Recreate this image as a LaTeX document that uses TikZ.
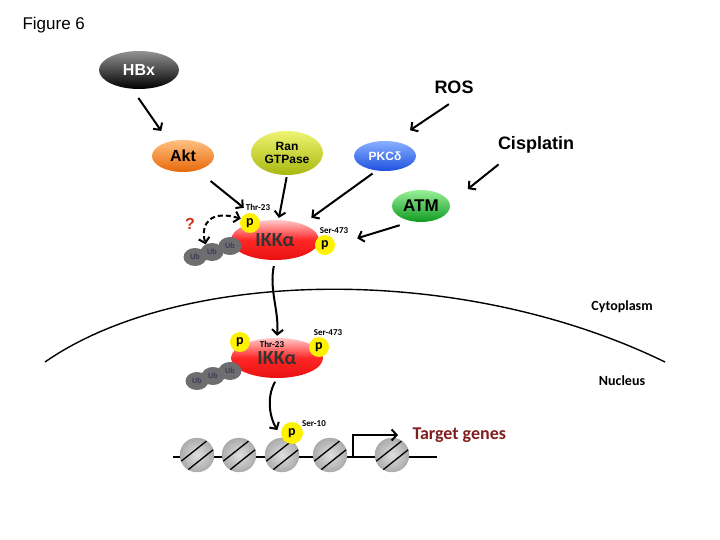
\documentclass[tikz,border=0pt]{standalone}
\usepackage{fontspec}
\setmainfont{Liberation Sans}
\newfontfamily\calib{Carlito}
\usetikzlibrary{shapes.geometric,arrows.meta}

\definecolor{aktL}{HTML}{FFC080}
\definecolor{aktD}{HTML}{E8680A}
\definecolor{ranL}{HTML}{EEF470}
\definecolor{ranD}{HTML}{A8B810}
\definecolor{pkcL}{HTML}{88B0FF}
\definecolor{pkcD}{HTML}{1E50E0}
\definecolor{atmL}{HTML}{98F098}
\definecolor{atmD}{HTML}{109A20}
\definecolor{ikkL}{HTML}{FFC8C8}
\definecolor{ikkD}{HTML}{E81010}
\definecolor{ubgray}{HTML}{6E6E70}
\definecolor{ubtext}{HTML}{3A3A55}
\definecolor{pyellow}{HTML}{FFF200}
\definecolor{genered}{HTML}{7F1F1F}
\definecolor{qred}{HTML}{D03020}

\newcommand{\fs}[1]{\fontsize{#1}{#1}\selectfont}

\begin{document}
\begin{tikzpicture}[x=1pt,y=-1pt,
  >={Straight Barb[length=5pt,width=11pt]},
  prot/.style={ellipse, inner sep=0pt, font=\bfseries},
  phos/.style={circle, fill=pyellow, minimum size=20pt, inner sep=0pt, font=\calib\bfseries\fs{14}},
  ub/.style={ellipse, fill=ubgray, minimum width=23pt, minimum height=18pt, inner sep=0pt, text=ubtext, font=\calib\bfseries\fs{8}},
  site/.style={inner sep=0pt, font=\calib\bfseries\fs{9}},
  ikk/.style={prot, top color=ikkL, bottom color=ikkD, middle color=red!85, font=\calib\bfseries\fs{20}, text=black!80},
  nucl/.style={circle, inner color=gray!25, outer color=gray!65, draw=gray!70, minimum size=34pt, inner sep=0pt},
  arr/.style={->, line width=2pt},
  label/.style={font=\calib\bfseries\fs{14}}]

  \useasboundingbox (0,0) rectangle (720,540);

  \node[anchor=west, font=\fs{17}] (fig) at (19,25) {Figure 6};

  % upstream kinases
  \node[prot, minimum width=80pt, minimum height=38pt, top color=gray!85, bottom color=black, text=white, font=\bfseries\fs{16}] (hbx) at (139,70) {HBx};
  \node[prot, minimum width=62pt, minimum height=32pt, top color=aktL, bottom color=aktD, font=\bfseries\fs{16}] (akt) at (183,156) {Akt};
  \node[prot, minimum width=72pt, minimum height=44pt, top color=ranL, bottom color=ranD, align=center, font=\bfseries\fs{12}] (ran) at (287,153) {Ran\\[1pt]GTPase};
  \node[prot, minimum width=62pt, minimum height=30pt, top color=pkcL, bottom color=pkcD, text=white, font=\bfseries\fs{12}] (pkc) at (385,156) {PKCδ};
  \node[prot, minimum width=58pt, minimum height=32pt, top color=atmL, bottom color=atmD, font=\bfseries\fs{17}] (atm) at (421,206) {ATM};

  % stimuli
  \node[font=\bfseries\fs{18}] (ros) at (454,87) {ROS};
  \node[font=\bfseries\fs{18}] (cis) at (536,145) {Cisplatin};

  % IKK alpha in the cytoplasm
  \node[ikk, minimum width=88pt, minimum height=40pt] (ikka) at (275,240) {IKKα};
  \node[ub] (uba3) at (230,246) {Ub};
  \node[ub] (uba2) at (212,252) {Ub};
  \node[ub] (uba1) at (195,257) {Ub};
  \node[phos] (pa1) at (250,223) {p};
  \node[phos] (pa2) at (325,245) {p};
  \node[site] (thra) at (258,207) {Thr-23};
  \node[site] (sera) at (334,231) {Ser-473};
  \node[text=qred, font=\bfseries\fs{16}] (q) at (190,224) {?};

  % membrane
  \coordinate (memL) at (45,362);
  \coordinate (memR) at (665,362);
  \draw[line width=1.4pt] (memL) .. controls (180,268) and (460,262) .. (memR);
  \node[label] (cyto) at (622,307) {Cytoplasm};
  \node[label] (nucleus) at (622,381) {Nucleus};

  % IKK alpha in the nucleus
  \node[ikk, minimum width=92pt, minimum height=40pt] (ikkb) at (277,358) {\raisebox{-7pt}{IKKα}};
  \node[ub] (ubb3) at (230,371) {Ub};
  \node[ub] (ubb2) at (213,376) {Ub};
  \node[ub] (ubb1) at (197,381) {Ub};
  \node[phos] (pb1) at (240,342) {p};
  \node[phos] (pb2) at (319,347) {p};
  \node[site] (thrb) at (272,344) {Thr-23};
  \node[site] (serb) at (328,333) {Ser-473};

  % chromatin
  \coordinate (dnaL) at (173,457);
  \coordinate (dnaR) at (437,457);
  \coordinate (tss) at (353,457);
  \draw[line width=2pt] (dnaL) -- (dnaR);
  \foreach \i/\x in {1/197,2/239,3/282,4/330,5/392} {
    \node[nucl] (n\i) at (\x,455) {};
    \draw[line width=1.3pt] ([shift={(-15.7,6.1)}]n\i.center) -- ([shift={(9.5,-13.9)}]n\i.center);
    \draw[line width=1.3pt] ([shift={(-8.7,14.6)}]n\i.center) -- ([shift={(16.1,-5.2)}]n\i.center);
  }
  \node[phos, minimum size=22pt] (pc) at (292,433) {p};
  \node[site] (ser10) at (314,424) {Ser-10};
  \node[anchor=west, text=genered, font=\calib\bfseries\fs{18}] (genes) at (409,435) {Target genes};
  \draw[arr] (tss) |- ([xshift=-11pt]genes.west);

  % arrows
  \draw[arr, shorten <=11pt, shorten >=13pt] (hbx.-110) -- (akt.135);
  \draw[arr, shorten <=13pt, shorten >=20pt] (ros.-60) -- (pkc.60);
  \draw[arr, shorten <=12pt, shorten >=23pt] (cis.-157) -- (atm.5);
  \draw[arr, shorten <=13pt, shorten >=23pt] (atm.-120) -- (pa2.east);
  \draw[arr, shorten <=17pt, shorten >=8pt] (akt.-45) -- (pa1.north);
  \draw[arr, shorten <=2pt, shorten >=2pt] (ran.south) -- (ikka.80);
  \draw[arr, shorten <=5pt, shorten >=11pt] (pkc.-120) -- (ikka.30);
  \draw[<->, dash pattern=on 5pt off 3pt, line width=2pt] (pa1.155) .. controls (212,210) and (200,222) .. (uba2.130);
  \draw[arr, shorten <=6pt, shorten >=2pt] (ikka.south) .. controls (269,290) and (279,310) .. (ikkb.north);
  \draw[arr, shorten <=4pt, shorten >=9pt] (ikkb.south) .. controls (266,398) and (270,418) .. (n3.north);

\end{tikzpicture}
\end{document}
